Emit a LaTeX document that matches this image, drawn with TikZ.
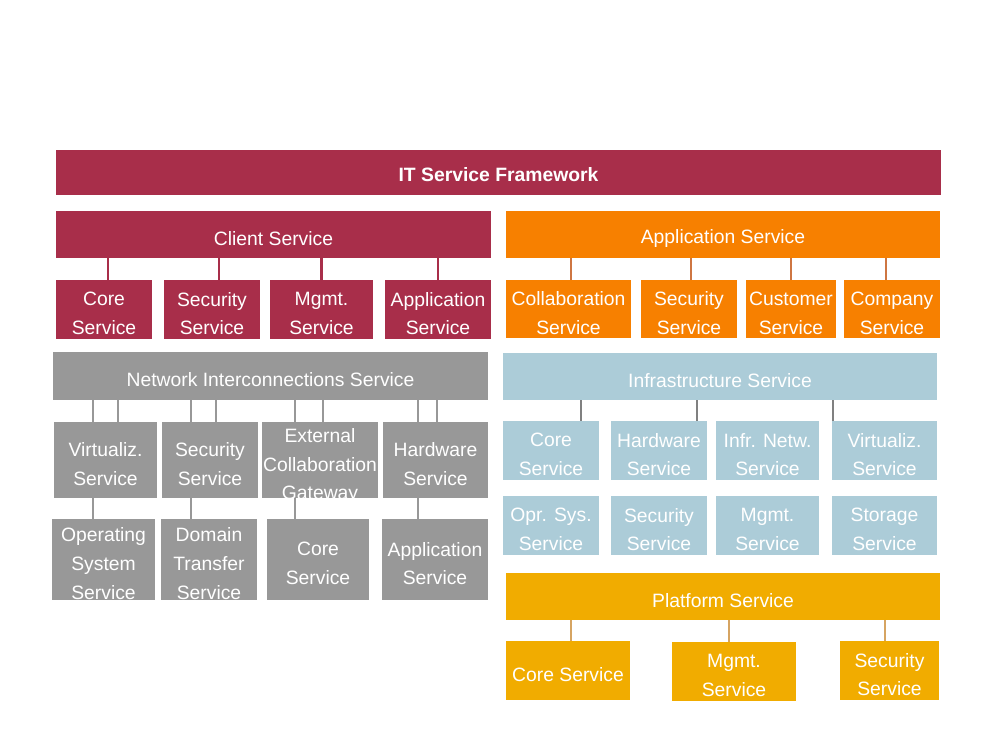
\documentclass[tikz,border=0pt]{standalone}
\usepackage{fontspec}
\setmainfont{Liberation Sans}
\usetikzlibrary{fit}
\definecolor{crimson}{RGB}{168,46,74}
\definecolor{tangerine}{RGB}{247,128,0}
\definecolor{slate}{RGB}{152,152,152}
\definecolor{paleblue}{RGB}{172,204,216}
\definecolor{amber}{RGB}{241,172,0}
\definecolor{rust}{RGB}{206,118,66}
\definecolor{tan}{RGB}{214,164,98}
\tikzset{
  bx/.style={inner sep=0pt,draw=none},
  txt/.style={text=white,align=center,inner sep=0pt,yshift=-2.3pt,font=\fontsize{11}{16.4}\selectfont},
  lnk/.style={line width=1.2pt}
}
\begin{document}
\begin{tikzpicture}[x=0.02cm,y=-0.02cm]
\useasboundingbox (0,0) rectangle (1000,750);
% top bar
\node (title) [bx,fill=crimson,fit={(56,150)(941,195)},label={[txt,yshift=1.2pt,font=\fontsize{11}{16.4}\selectfont\bfseries]center:IT Service Framework}] {};
% client service
\node (client) [bx,fill=crimson,fit={(56,211)(491,258)},label={[txt]center:Client Service}] {};
\node (cl1) [bx,fill=crimson,fit={(56,280)(152,339)},label={[txt]center:{Core\\Service}}] {};
\node (cl2) [bx,fill=crimson,fit={(164,280)(260,339)},label={[txt]center:{Security\\Service}}] {};
\node (cl3) [bx,fill=crimson,fit={(270,280)(373,339)},label={[txt]center:{Mgmt.\\Service}}] {};
\node (cl4) [bx,fill=crimson,fit={(385,280)(491,339)},label={[txt]center:{Application\\Service}}] {};
\draw[lnk,crimson] ([xshift=2.3pt]cl1.north) -- ([xshift=2.3pt]cl1.north |- client.south);
\draw[lnk,crimson] ([xshift=4pt]cl2.north) -- ([xshift=4pt]cl2.north |- client.south);
\draw[lnk,crimson] (cl3.north) -- (cl3.north |- client.south);
\draw[lnk,crimson] (cl4.north) -- (cl4.north |- client.south);
% application service
\node (app) [bx,fill=tangerine,fit={(506,211)(940,258)},label={[txt]center:Application Service}] {};
\node (ap1) [bx,fill=tangerine,fit={(506,280)(631,338)},label={[txt]center:{Collaboration\\Service}}] {};
\node (ap2) [bx,fill=tangerine,fit={(641,280)(737,338)},label={[txt]center:{Security\\Service}}] {};
\node (ap3) [bx,fill=tangerine,fit={(746,280)(836,338)},label={[txt]center:{Customer\\Service}}] {};
\node (ap4) [bx,fill=tangerine,fit={(844,280)(940,338)},label={[txt]center:{Company\\Service}}] {};
\draw[lnk,rust] ([xshift=1.4pt]ap1.north) -- ([xshift=1.4pt]ap1.north |- app.south);
\draw[lnk,rust] ([xshift=1pt]ap2.north) -- ([xshift=1pt]ap2.north |- app.south);
\draw[lnk,rust] (ap3.north) -- (ap3.north |- app.south);
\draw[lnk,rust] ([xshift=-3.4pt]ap4.north) -- ([xshift=-3.4pt]ap4.north |- app.south);
% network interconnections
\node (net) [bx,fill=slate,fit={(53,352)(488,400)},label={[txt]center:Network Interconnections Service}] {};
\node (nw1) [bx,fill=slate,fit={(54,422)(157,498)},label={[txt]center:{Virtualiz.\\Service}}] {};
\node (nw2) [bx,fill=slate,fit={(162,422)(258,498)},label={[txt]center:{Security\\Service}}] {};
\node (nw3) [bx,fill=slate,fit={(262,422)(378,498)},label={[txt,yshift=-1.2pt]center:{External\\Collaboration\\Gateway}}] {};
\node (nw4) [bx,fill=slate,fit={(383,422)(488,498)},label={[txt]center:{Hardware\\Service}}] {};
\node (nb1) [bx,fill=slate,fit={(52,519)(155,600)},label={[txt]center:{Operating\\System\\Service}}] {};
\node (nb2) [bx,fill=slate,fit={(161,519)(257,600)},label={[txt]center:{Domain\\Transfer\\Service}}] {};
\node (nb3) [bx,fill=slate,fit={(267,519)(369,600)},label={[txt]center:{Core\\Service}}] {};
\node (nb4) [bx,fill=slate,fit={(382,519)(488,600)},label={[txt]center:{Application\\Service}}] {};
\draw[lnk,slate] ([xshift=-7pt]nw1.north) -- ([xshift=-7pt]nw1.north |- net.south);
\draw[lnk,slate] ([xshift=7pt]nw1.north) -- ([xshift=7pt]nw1.north |- net.south);
\draw[lnk,slate] ([xshift=-11pt]nw2.north) -- ([xshift=-11pt]nw2.north |- net.south);
\draw[lnk,slate] ([xshift=3.4pt]nw2.north) -- ([xshift=3.4pt]nw2.north |- net.south);
\draw[lnk,slate] ([xshift=-14pt]nw3.north) -- ([xshift=-14pt]nw3.north |- net.south);
\draw[lnk,slate] ([xshift=1.7pt]nw3.north) -- ([xshift=1.7pt]nw3.north |- net.south);
\draw[lnk,slate] ([xshift=-10pt]nw4.north) -- ([xshift=-10pt]nw4.north |- net.south);
\draw[lnk,slate] ([xshift=1pt]nw4.north) -- ([xshift=1pt]nw4.north |- net.south);
\draw[lnk,slate] ([xshift=-7pt]nw1.south) -- ([xshift=-7pt]nw1.south |- nb1.north);
\draw[lnk,slate] ([xshift=-11pt]nw2.south) -- ([xshift=-11pt]nw2.south |- nb2.north);
\draw[lnk,slate] ([xshift=-14pt]nw3.south) -- ([xshift=-14pt]nw3.south |- nb3.north);
\draw[lnk,slate] ([xshift=-10pt]nw4.south) -- ([xshift=-10pt]nw4.south |- nb4.north);
% infrastructure
\node (infra) [bx,fill=paleblue,fit={(503,353)(937,400)},label={[txt]center:Infrastructure Service}] {};
\node (in1) [bx,fill=paleblue,fit={(503,421)(599,480)},label={[txt]center:{Core\\Service}}] {};
\node (in2) [bx,fill=paleblue,fit={(611,421)(707,480)},label={[txt]center:{Hardware\\Service}}] {};
\node (in3) [bx,fill=paleblue,fit={(716,421)(819,480)},label={[txt]center:{Infr. Netw.\\Service}}] {};
\node (in4) [bx,fill=paleblue,fit={(832,421)(937,480)},label={[txt]center:{Virtualiz.\\Service}}] {};
\node (ib1) [bx,fill=paleblue,fit={(503,496)(599,555)},label={[txt]center:{Opr. Sys.\\Service}}] {};
\node (ib2) [bx,fill=paleblue,fit={(611,496)(707,555)},label={[txt]center:{Security\\Service}}] {};
\node (ib3) [bx,fill=paleblue,fit={(716,496)(819,555)},label={[txt]center:{Mgmt.\\Service}}] {};
\node (ib4) [bx,fill=paleblue,fit={(832,496)(937,555)},label={[txt]center:{Storage\\Service}}] {};
\draw[lnk,gray] ([xshift=17pt]in1.north) -- ([xshift=17pt]in1.north |- infra.south);
\draw[lnk,gray] ([xshift=21.5pt]in2.north) -- ([xshift=21.5pt]in2.north |- infra.south);
\draw[lnk,gray] ([xshift=0.6pt]in4.north west) -- ([xshift=0.6pt]in4.north west |- infra.south);
% platform
\node (plat) [bx,fill=amber,fit={(506,573)(940,620)},label={[txt]center:Platform Service}] {};
\node (pl1) [bx,fill=amber,fit={(506,641)(630,700)},label={[txt]center:Core Service}] {};
\node (pl2) [bx,fill=amber,fit={(672,642)(796,701)},label={[txt]center:{Mgmt.\\Service}}] {};
\node (pl3) [bx,fill=amber,fit={(840,641)(939,700)},label={[txt]center:{Security\\Service}}] {};
\draw[lnk,tan] ([xshift=1.7pt]pl1.north) -- ([xshift=1.7pt]pl1.north |- plat.south);
\draw[lnk,tan] ([xshift=-2.8pt]pl2.north) -- ([xshift=-2.8pt]pl2.north |- plat.south);
\draw[lnk,tan] ([xshift=-2.6pt]pl3.north) -- ([xshift=-2.6pt]pl3.north |- plat.south);
\end{tikzpicture}
\end{document}
